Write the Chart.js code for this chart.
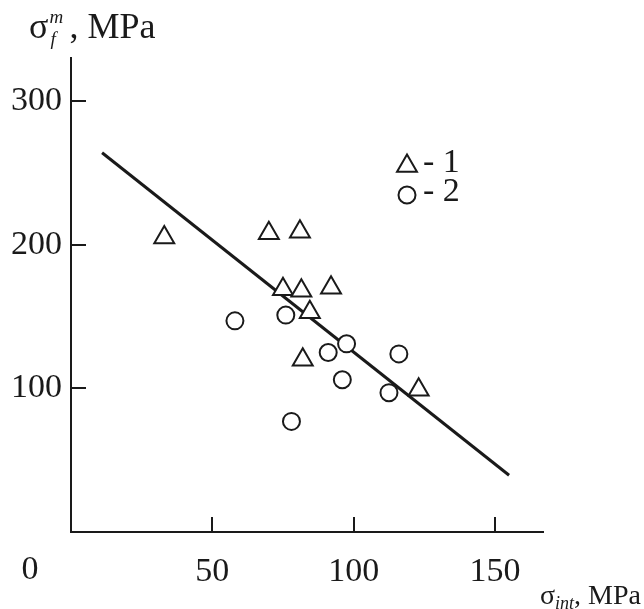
<!DOCTYPE html>
<html>
<head>
<meta charset="utf-8">
<script src="https://cdn.jsdelivr.net/npm/chart.js@4.4.0/dist/chart.umd.min.js"></script>
<style>
  html, body { margin: 0; padding: 0; background: #fff; }
  #wrap { width: 644px; height: 609px; position: relative; }
</style>
</head>
<body>
<div id="wrap"><canvas id="chart"></canvas></div>
<script>
// Serie 1 (triangulos)
var triX = [33, 70, 81, 75, 81.5, 92, 84.5, 82, 123];
var triY = [205, 208, 209, 169, 168, 170, 153, 120, 99];
// Serie 2 (circulos)
var circX = [58, 76, 78, 91, 97.5, 96, 116, 112.5];
var circY = [147, 151, 77, 125, 131, 106, 124, 97];
// Reta de ajuste
var fitX = [11, 155];
var fitY = [264, 39.5];
var seriesLabels = ['1', '2'];
var xTicks = [50, 100, 150];
var yTicks = [100, 200, 300];

var INK = '#1a1a1a';
var SERIF = '"Liberation Serif", "Times New Roman", serif';

function pts(xs, ys) {
  return xs.map(function (x, i) { return { x: x, y: ys[i] }; });
}

// ticks para dentro, legenda, titulos dos eixos
var extras = {
  id: 'extras',
  afterDraw: function (chart) {
    var ctx = chart.ctx;
    var a = chart.chartArea;
    var sx = chart.scales.x, sy = chart.scales.y;
    ctx.save();
    ctx.strokeStyle = INK;
    ctx.lineWidth = 2;
    xTicks.forEach(function (v) {
      var px = Math.round(sx.getPixelForValue(v));
      ctx.beginPath(); ctx.moveTo(px, a.bottom); ctx.lineTo(px, a.bottom - 15); ctx.stroke();
    });
    yTicks.forEach(function (v) {
      var py = Math.round(sy.getPixelForValue(v));
      ctx.beginPath(); ctx.moveTo(a.left, py); ctx.lineTo(a.left + 15, py); ctx.stroke();
    });

    ctx.fillStyle = INK;
    ctx.font = '34px ' + SERIF;
    ctx.textAlign = 'center';
    ctx.textBaseline = 'middle';
    ctx.fillText('0', 30, 570);

    // legenda
    var styles = ['triangle', 'circle'];
    var radii = [11.5, 8.5];
    var ly = [166, 195];
    for (var i = 0; i < 2; i++) {
      ctx.fillStyle = '#fff';
      ctx.strokeStyle = INK;
      ctx.lineWidth = 2;
      Chart.helpers.drawPoint(ctx, { pointStyle: styles[i], radius: radii[i], rotation: 0, borderWidth: 2 }, 407, ly[i]);
      ctx.fillStyle = INK;
      ctx.textAlign = 'left';
      ctx.textBaseline = 'middle';
      ctx.font = '34px ' + SERIF;
      ctx.fillText('- ' + seriesLabels[i], 423, ly[i] - 3);
    }

    // titulo eixo y
    ctx.textBaseline = 'alphabetic';
    ctx.textAlign = 'left';
    var x0 = 29, base = 38;
    ctx.font = '36px ' + SERIF;
    ctx.fillText('\u03c3', x0, base);
    var w = ctx.measureText('\u03c3').width;
    ctx.font = 'italic 19px ' + SERIF;
    ctx.fillText('f', x0 + w + 2, base + 7);
    ctx.fillText('m', x0 + w + 1, base - 15);
    ctx.font = '36px ' + SERIF;
    ctx.fillText(', MPa', x0 + w + 21, base);

    // titulo eixo x (alinhado a direita)
    var bb = 604;
    ctx.font = '28px ' + SERIF;
    var ws = ctx.measureText('\u03c3').width;
    var wt = ctx.measureText(', MPa').width;
    ctx.font = 'italic 18px ' + SERIF;
    var wi = ctx.measureText('int').width;
    var bx = 641 - (ws + wi + wt);
    ctx.font = '28px ' + SERIF;
    ctx.fillText('\u03c3', bx, bb);
    ctx.fillText(', MPa', bx + ws + wi, bb);
    ctx.font = 'italic 18px ' + SERIF;
    ctx.fillText('int', bx + ws, bb + 5);
    ctx.restore();
  }
};

var ctx = document.getElementById('chart').getContext('2d');
var chart = new Chart(ctx, {
  type: 'scatter',
  data: {
    datasets: [{
      label: seriesLabels[0],
      data: pts(triX, triY),
      pointStyle: 'triangle',
      pointRadius: 11.5,
      pointBorderWidth: 2,
      pointBorderColor: INK,
      pointBackgroundColor: '#fff'
    }, {
      label: seriesLabels[1],
      data: pts(circX, circY),
      pointStyle: 'circle',
      pointRadius: 8.5,
      pointBorderWidth: 2,
      pointBorderColor: INK,
      pointBackgroundColor: '#fff'
    }, {
      label: 'fit',
      data: pts(fitX, fitY),
      showLine: true,
      borderColor: INK,
      borderWidth: 3,
      pointRadius: 0
    }]
  },
  plugins: [extras],
  options: {
    responsive: true,
    maintainAspectRatio: false,
    animation: false,
    layout: { padding: { left: 0, right: 101, top: 58, bottom: 0 } },
    plugins: { legend: { display: false }, tooltip: { enabled: false } },
    scales: {
      x: {
        type: 'linear', min: 0, max: 167,
        afterBuildTicks: function (s) { s.ticks = xTicks.map(function (v) { return { value: v }; }); },
        afterFit: function (s) { s.height = 77; },
        grid: { display: false, drawTicks: false },
        border: { display: true, color: INK, width: 2 },
        ticks: { color: INK, padding: 20, maxRotation: 0, font: { family: SERIF, size: 34 } }
      },
      y: {
        type: 'linear', min: 0, max: 330,
        afterBuildTicks: function (s) { s.ticks = yTicks.map(function (v) { return { value: v }; }); },
        afterFit: function (s) { s.width = 71; },
        grid: { display: false, drawTicks: false },
        border: { display: true, color: INK, width: 2 },
        ticks: { color: INK, padding: 9, font: { family: SERIF, size: 34 } }
      }
    }
  }
});
</script>
</body>
</html>
